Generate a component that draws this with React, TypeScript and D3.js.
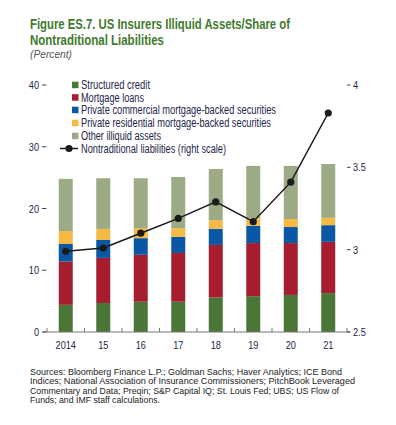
import * as d3 from "d3";

const W = 396;
const H = 425;
const FONT = "'Liberation Sans', Arial, sans-serif";

const years = ["2014", "15", "16", "17", "18", "19", "20", "21"];
const structuredCredit = [4.4, 4.7, 4.9, 4.9, 5.6, 5.8, 6.0, 6.3];
const mortgageLoans = [7.0, 7.3, 7.6, 7.9, 8.5, 8.6, 8.4, 8.3];
const privateCmbs = [2.85, 2.9, 2.7, 2.6, 2.6, 2.8, 2.6, 2.7];
const privateRmbs = [2.1, 1.8, 1.6, 1.4, 1.4, 1.2, 1.3, 1.2];
const otherIlliquid = [8.45, 8.2, 8.1, 8.3, 8.3, 8.5, 8.6, 8.7];
const nontraditional = [2.99, 3.01, 3.1, 3.19, 3.29, 3.17, 3.41, 3.83];

const leftTicks = [0, 10, 20, 30, 40];
const rightTicks = [2.5, 3, 3.5, 4];

const seriesNames = [
  "Structured credit",
  "Mortgage loans",
  "Private commercial mortgage-backed securities",
  "Private residential mortgage-backed securities",
  "Other illiquid assets",
];
const lineName = "Nontraditional liabilities (right scale)";
const seriesColors = ["#4a7638", "#a61d2f", "#0a58a3", "#f5b944", "#9daa86"];
const seriesValues = [structuredCredit, mortgageLoans, privateCmbs, privateRmbs, otherIlliquid];

const sources = [
  "Sources: Bloomberg Finance L.P.; Goldman Sachs; Haver Analytics; ICE Bond",
  "Indices; National Association of Insurance Commissioners; PitchBook Leveraged",
  "Commentary and Data; Preqin; S&P Capital IQ; St. Louis Fed; UBS; US Flow of",
  "Funds; and IMF staff calculations.",
];

const PLOT = { left: 47, right: 347, top: 85, bottom: 332 };
const legendWidths = [69, 63, 195, 190, 80, 145];
const sourceWidths = [312, 325, 309, 130];

// horizontally squeezed text, stands in for a condensed face
const NText = ({ x, y, sx = 0.8, anchor = "start", size = 11.5, fill = "#222", children }: any) => (
  <text
    transform={`translate(${x},${y}) scale(${sx},1)`}
    textAnchor={anchor}
    fontSize={size}
    fill={fill}
  >
    {children}
  </text>
);

export default function App() {
  const x = d3
    .scaleBand()
    .domain(years)
    .range([PLOT.left, PLOT.right])
    .paddingInner(0.627)
    .paddingOuter(0.3135);
  const y = d3.scaleLinear().domain([0, 40]).range([PLOT.bottom, PLOT.top]);
  const yR = d3.scaleLinear().domain([2.5, 4]).range([PLOT.bottom, PLOT.top]);

  const table = years.map((yr, i) => {
    const row: any = { year: yr };
    seriesNames.forEach((n, k) => (row[n] = seriesValues[k][i]));
    return row;
  });
  const stacked = d3.stack().keys(seriesNames)(table);

  const cx = (i: number) => (x(years[i]) as number) + x.bandwidth() / 2;
  const line = d3
    .line<number>()
    .x((_, i) => cx(i))
    .y((d) => yR(d));

  const step = x.step();
  const boundaries = d3.range(years.length + 1).map((i) => PLOT.left + i * step);

  const legendY = [85, 97.5, 110, 123, 136, 148.5];

  return (
    <svg
      width={W}
      height={H}
      style={{ position: "absolute", left: 0, top: 0, background: "#fff" }}
      fontFamily={FONT}
    >
      {/* title */}
      <text x={30} y={29} fontSize={15} fontWeight="700" fill="#3f7a2e" textLength={260} lengthAdjust="spacingAndGlyphs">
        Figure ES.7. US Insurers Illiquid Assets/Share of
      </text>
      <text x={30} y={44.5} fontSize={15} fontWeight="700" fill="#3f7a2e" textLength={134} lengthAdjust="spacingAndGlyphs">
        Nontraditional Liabilities
      </text>
      <text x={30} y={57.5} fontSize={11.5} fontStyle="italic" fill="#555" textLength={42} lengthAdjust="spacingAndGlyphs">
        (Percent)
      </text>

      {/* bars */}
      {stacked.map((s, k) => (
        <g key={s.key} fill={seriesColors[k]}>
          {s.map((d, i) => (
            <rect
              key={i}
              x={x(years[i])}
              width={x.bandwidth()}
              y={y(d[1])}
              height={y(d[0]) - y(d[1])}
            />
          ))}
        </g>
      ))}

      {/* bottom axis */}
      <line x1={43} x2={PLOT.right + 3} y1={PLOT.bottom} y2={PLOT.bottom} stroke="#777" strokeWidth={1.2} />
      {boundaries.map((bx, i) => (
        <line key={i} x1={bx} x2={bx} y1={PLOT.bottom} y2={PLOT.bottom - 4} stroke="#777" strokeWidth={1} />
      ))}
      {years.map((yr, i) => (
        <NText key={yr} x={cx(i)} y={349} anchor="middle" fill="#23264a">
          {yr}
        </NText>
      ))}

      {/* left axis */}
      {leftTicks.map((t) => (
        <g key={t}>
          <line x1={42} x2={46.5} y1={y(t)} y2={y(t)} stroke="#444" />
          <NText x={39} y={y(t) + 4} anchor="end" fill="#23264a">
            {t}
          </NText>
        </g>
      ))}

      {/* right axis */}
      {rightTicks.map((t) => (
        <g key={t}>
          <line x1={347} x2={350.5} y1={yR(t)} y2={yR(t)} stroke="#444" />
          <NText x={353} y={yR(t) + 4} fill="#23264a">
            {t}
          </NText>
        </g>
      ))}

      {/* line series */}
      <path d={line(nontraditional) || ""} fill="none" stroke="#1a1a1a" strokeWidth={1.5} />
      {nontraditional.map((v, i) => (
        <circle key={i} cx={cx(i)} cy={yR(v)} r={3.6} fill="#1a1a1a" />
      ))}

      {/* legend */}
      {seriesNames.map((n, k) => (
        <g key={n}>
          <rect x={72} y={legendY[k] - 3.3} width={6.5} height={6.5} fill={seriesColors[k]} />
          <text x={81} y={legendY[k] + 4} fontSize={12} fill="#23264a" textLength={legendWidths[k]} lengthAdjust="spacingAndGlyphs">
            {n}
          </text>
        </g>
      ))}
      <line x1={60} x2={78} y1={legendY[5]} y2={legendY[5]} stroke="#1a1a1a" strokeWidth={1.5} />
      <circle cx={69} cy={legendY[5]} r={3.6} fill="#1a1a1a" />
      <text x={81} y={legendY[5] + 4} fontSize={12} fill="#23264a" textLength={legendWidths[5]} lengthAdjust="spacingAndGlyphs">
        {lineName}
      </text>

      {/* sources */}
      {sources.map((s, i) => (
        <text key={i} x={30} y={375 + i * 9.4} fontSize={9.3} fill="#222" textLength={sourceWidths[i]} lengthAdjust="spacingAndGlyphs">
          {s}
        </text>
      ))}
    </svg>
  );
}
